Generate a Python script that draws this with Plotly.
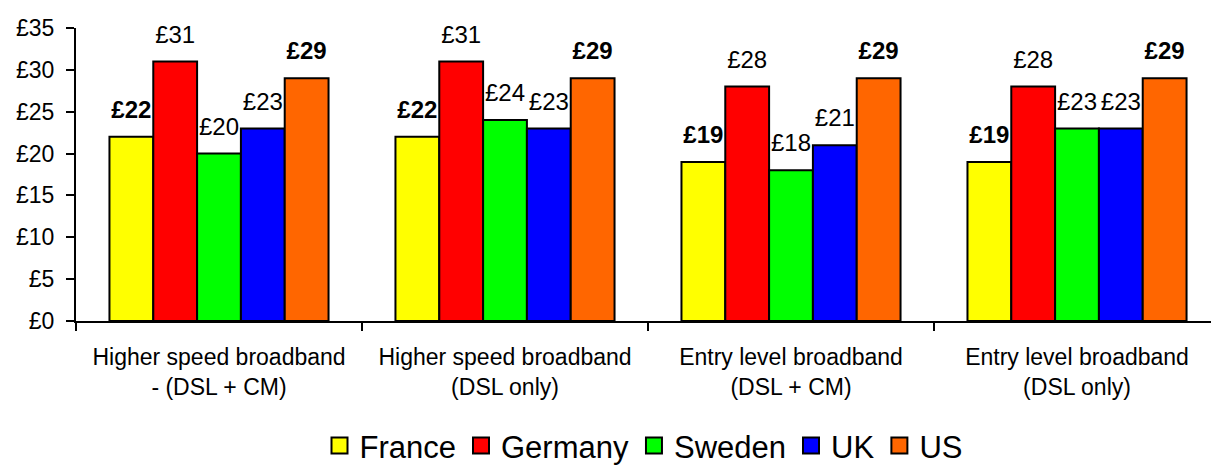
import plotly.graph_objects as go

categories = [
    "Higher speed broadband<br>- (DSL + CM)",
    "Higher speed broadband<br>(DSL only)",
    "Entry level broadband<br>(DSL + CM)",
    "Entry level broadband<br>(DSL only)",
]
series_names = ["France", "Germany", "Sweden", "UK", "US"]
france = [22, 22, 19, 19]
germany = [31, 31, 28, 28]
sweden = [20, 24, 18, 23]
uk = [23, 23, 21, 23]
us = [29, 29, 29, 29]
y_ticks = [0, 5, 10, 15, 20, 25, 30, 35]

series_values = [france, germany, sweden, uk, us]
colors = ["#FFFF00", "#FF0000", "#00FF00", "#0000FF", "#FF6600"]
bold_series = {"France", "US"}

FONT = "Liberation Sans, Arial, sans-serif"
GAP = 0.234

fig = go.Figure()

for name, vals, col in zip(series_names, series_values, colors):
    fig.add_trace(go.Bar(
        name=name, x=categories, y=vals,
        marker=dict(color=col, line=dict(color="black", width=2)),
        showlegend=False, hoverinfo="skip",
    ))

for name, vals in zip(series_names, series_values):
    fig.add_trace(go.Scatter(
        x=categories, y=vals, mode="markers+text", orientation="v",
        text=["£%d" % v for v in vals], textposition="top center",
        textfont=dict(family=FONT, size=24, color="black",
                      weight="bold" if name in bold_series else "normal"),
        marker=dict(size=19, color="rgba(0,0,0,0)"),
        cliponaxis=False, showlegend=False, hoverinfo="skip",
    ))

# legend entries
for name, col in zip(series_names, colors):
    fig.add_trace(go.Scatter(
        name=name, x=[None], y=[None], mode="markers",
        marker=dict(symbol="square", size=16, color=col,
                    line=dict(color="black", width=2)),
        xaxis="x2", yaxis="y2", hoverinfo="skip",
    ))

fig.update_layout(
    width=1211, height=465, autosize=False,
    margin=dict(l=76, r=0, t=28, b=144, pad=0),
    paper_bgcolor="white", plot_bgcolor="white",
    font=dict(family=FONT, color="black"),
    barmode="group", bargap=GAP, bargroupgap=0,
    scattermode="group", scattergap=GAP,
    showlegend=True,
    legend=dict(orientation="h", x=0.5, xanchor="center",
                yref="container", y=0.041, yanchor="middle",
                font=dict(size=31, family=FONT),
                itemwidth=30, traceorder="normal"),
    xaxis=dict(
        type="category", range=[-0.5, 3.4685], showline=True,
        linecolor="black", linewidth=2, ticks="outside", tickson="boundaries",
        ticklen=8, tickwidth=2, tickcolor="black", showgrid=False,
        tickfont=dict(size=23, family=FONT), ticklabelstandoff=14,
        automargin=False,
    ),
    yaxis=dict(
        range=[0, 35], tickvals=y_ticks, ticktext=["£%d" % v for v in y_ticks],
        showline=True, linecolor="black", linewidth=2, ticks="outside",
        ticklen=8, tickwidth=2, tickcolor="black", showgrid=False,
        zeroline=False, tickfont=dict(size=23, family=FONT),
        ticklabelstandoff=7, automargin=False,
    ),
    xaxis2=dict(overlaying="x", visible=False, range=[0, 1]),
    yaxis2=dict(overlaying="y", visible=False, range=[0, 1]),
)

fig.write_html("out.html")
